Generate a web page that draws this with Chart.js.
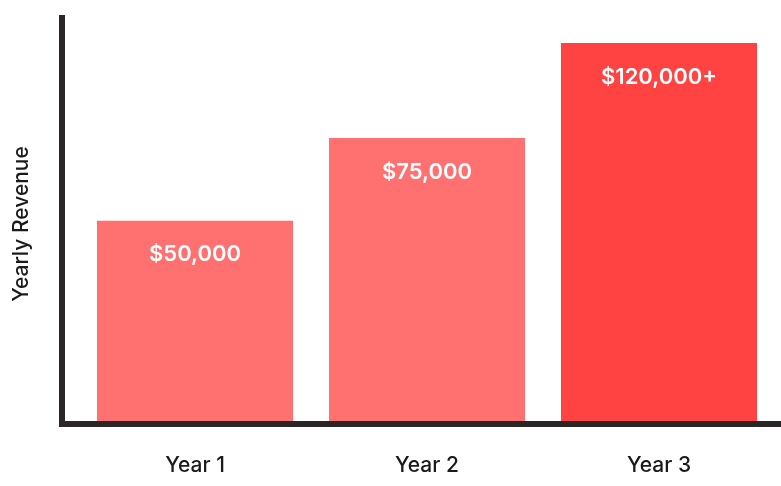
<!DOCTYPE html>
<html>
<head>
<meta charset="utf-8">
<script src="https://cdn.jsdelivr.net/npm/chart.js@4"></script>
<style>
  body { margin: 0; background: #fff; }
  #wrap { width: 781px; height: 486px; }
</style>
</head>
<body>
<div id="wrap"><canvas id="c"></canvas></div>
<script>
// categories and values (bar heights, scale 0-100)
const years = ["Year 1", "Year 2", "Year 3"];
const heights = [49.3, 69.7, 93.1];
const revenueLabels = ["$50,000", "$75,000", "$120,000+"];
const barColors = ["#ff7070", "#ff7070", "#ff4242"];

// draws the thick axis lines, the y title, category labels and the labels inside bars
const decor = {
  id: 'decor',
  afterDatasetsDraw(chart) {
    const ctx = chart.ctx;
    const a = chart.chartArea;
    ctx.save();
    ctx.fillStyle = '#2b2626';
    ctx.fillRect(a.left - 20, 15, 6, a.bottom + 6 - 15);
    ctx.fillRect(a.left - 20, a.bottom, a.right - a.left + 26, 6);

    ctx.translate(22, 224);
    ctx.rotate(-Math.PI / 2);
    ctx.font = '500 21px Inter';
    ctx.fillStyle = '#1a1a1a';
    ctx.textAlign = 'center';
    ctx.textBaseline = 'middle';
    ctx.fillText('Yearly Revenue', 0, 0);
    ctx.restore();

    ctx.save();
    ctx.textAlign = 'center';
    ctx.textBaseline = 'middle';
    const meta = chart.getDatasetMeta(0);
    meta.data.forEach(function (bar, i) {
      ctx.font = '600 22px Inter';
      ctx.fillStyle = '#fff';
      ctx.fillText(revenueLabels[i], bar.x, bar.y + 34);
      ctx.font = '500 21px Inter';
      ctx.fillStyle = '#1a1a1a';
      ctx.fillText(years[i], bar.x, 466);
    });
    ctx.restore();
  }
};

new Chart(document.getElementById('c'), {
  type: 'bar',
  data: {
    labels: years,
    datasets: [{
      data: heights,
      backgroundColor: barColors,
      barPercentage: 0.845,
      categoryPercentage: 1
    }]
  },
  options: {
    responsive: true,
    maintainAspectRatio: false,
    animation: false,
    layout: { padding: { left: 79, right: 6, top: 15, bottom: 65 } },
    plugins: { legend: { display: false }, tooltip: { enabled: false } },
    scales: {
      x: { display: false },
      y: { display: false, min: 0, max: 100 }
    }
  },
  plugins: [decor]
});
</script>
</body>
</html>
